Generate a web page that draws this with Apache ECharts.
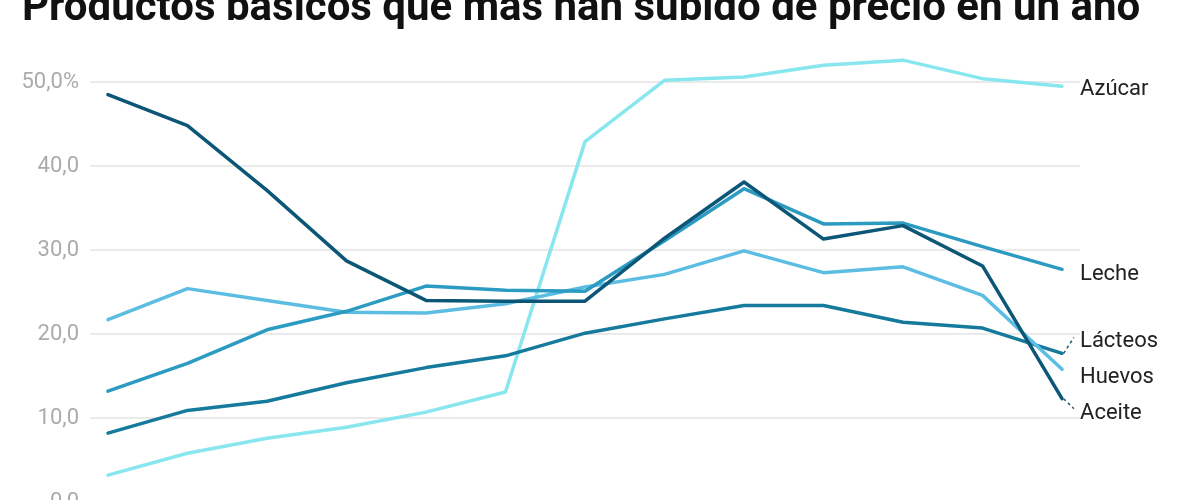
<!DOCTYPE html>
<html>
<head>
<meta charset="utf-8">
<title>Productos básicos que más han subido de precio en un año</title>
<script src="https://cdn.jsdelivr.net/npm/echarts@6/dist/echarts.min.js"></script>
<style>
  html, body { margin: 0; padding: 0; background: #fff; }
  #chart { width: 1200px; height: 500px; }
</style>
</head>
<body>
<div id="chart"></div>
<script>
// 13 monthly readings, year-on-year change (%)
const months = ['ene', 'feb', 'mar', 'abr', 'may', 'jun', 'jul', 'ago', 'sep', 'oct', 'nov', 'dic', 'ene'];

const azucar  = [3.2, 5.8, 7.6, 8.9, 10.7, 13.1, 42.9, 50.2, 50.6, 52.0, 52.6, 50.4, 49.5];
const leche   = [13.2, 16.5, 20.5, 22.7, 25.7, 25.2, 25.1, 31.1, 37.3, 33.1, 33.2, 30.4, 27.7];
const lacteos = [8.2, 10.9, 12.0, 14.2, 16.0, 17.4, 20.1, 21.8, 23.4, 23.4, 21.4, 20.7, 17.7];
const huevos  = [21.7, 25.4, 24.0, 22.6, 22.5, 23.6, 25.6, 27.1, 29.9, 27.3, 28.0, 24.6, 15.8];
const aceite  = [48.5, 44.8, 37.1, 28.7, 24.0, 23.9, 23.9, 31.4, 38.1, 31.3, 32.9, 28.1, 12.3];

const yTicks = [0, 10, 20, 30, 40, 50];

const chart = echarts.init(document.getElementById('chart'));

const pairs = arr => arr.map((v, i) => [i, v]);
const last = months.length - 1;

function line(name, values, color, labelDy, z) {
  return {
    name: name,
    type: 'line',
    data: pairs(values),
    symbol: 'none',
    clip: false,
    z: z,
    lineStyle: { color: color, width: 3.5, cap: 'round', join: 'round' },
    endLabel: {
      show: true,
      formatter: name,
      distance: 18,
      offset: [0, labelDy],
      color: '#222',
      fontSize: 22,
      fontFamily: 'Roboto'
    }
  };
}

// dotted guide from a line end up/down to its shifted label
function guide(values, shift) {
  const v = values[last];
  return {
    symbol: 'none',
    silent: true,
    label: { show: false },
    lineStyle: { color: '#2d5a6e', type: [3, 3], width: 1.5 },
    data: [[{ coord: [last + 0.02, v] }, { coord: [last + 0.15, v + shift] }]]
  };
}

const sLacteos = line('Lácteos', lacteos, '#167a9c', -12, 3);
sLacteos.markLine = guide(lacteos, 1.9);
const sAceite = line('Aceite', aceite, '#0c5677', 15, 5);
sAceite.markLine = guide(aceite, -1.2);

chart.setOption({
  animation: false,
  title: {
    text: 'Productos básicos que más han subido de precio en un año',
    left: 17,
    top: -17,
    textStyle: { fontFamily: 'Roboto', fontSize: 42, fontWeight: 'bold', color: '#111' }
  },
  grid: { left: 90, right: 120, top: -2, bottom: -2, outerBoundsMode: 'none' },
  xAxis: {
    type: 'value',
    min: -0.226,
    max: last + 0.226,
    axisLine: { show: false },
    axisTick: { show: false },
    axisLabel: { show: false },
    splitLine: { show: false }
  },
  yAxis: {
    type: 'value',
    min: 0,
    max: 60,
    interval: 10,
    axisLine: { show: false },
    axisTick: { show: false },
    splitLine: { lineStyle: { color: '#e3e3e3', width: 1.5 } },
    axisLabel: {
      margin: 11,
      color: '#ababab',
      fontSize: 22,
      fontFamily: 'Roboto',
      formatter: v => {
        if (yTicks.indexOf(v) < 0) return '';
        const s = v.toFixed(1).replace('.', ',');
        return v === 50 ? s + '%' : s;
      }
    }
  },
  series: [
    line('Azúcar', azucar, '#88e6ef', 3, 2),
    line('Leche', leche, '#2b9bc1', 5, 4),
    sLacteos,
    line('Huevos', huevos, '#5cbde3', 8, 3),
    sAceite
  ]
});
</script>
</body>
</html>
